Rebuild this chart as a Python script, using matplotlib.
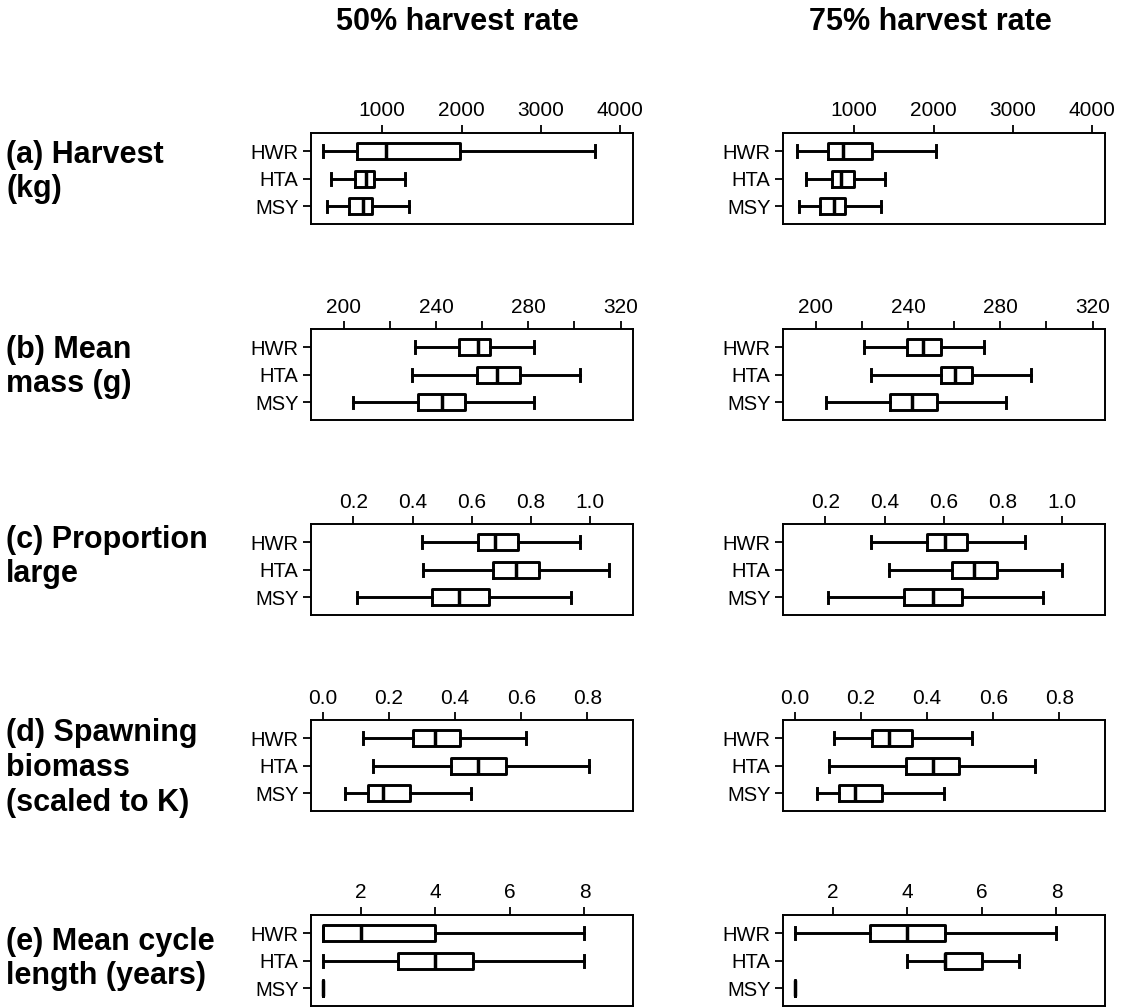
import matplotlib
matplotlib.use("Agg")
import matplotlib.pyplot as plt

plt.rcParams["font.family"] = ["Liberation Sans", "DejaVu Sans"]

# ---------- data ----------
groups = ["HWR", "HTA", "MSY"]
columns = ["50% harvest rate", "75% harvest rate"]
row_labels = [
    "(a) Harvest\n(kg)",
    "(b) Mean\nmass (g)",
    "(c) Proportion\nlarge",
    "(d) Spawning\nbiomass\n(scaled to K)",
    "(e) Mean cycle\nlength (years)",
]

# per group: [low whisker, Q1, median, Q3, high whisker]
harvest_50 = [[249, 684, 1050, 1981, 3688], [355, 650, 798, 894, 1282], [305, 578, 755, 874, 1336]]
harvest_75 = [[278, 669, 854, 1223, 2033], [395, 719, 832, 992, 1383], [307, 572, 741, 887, 1340]]
mass_50 = [[230.9, 250.0, 258.1, 263.2, 282.3], [229.7, 257.7, 266.4, 276.2, 302.6], [203.8, 232.0, 242.6, 252.3, 282.3]]
mass_75 = [[220.8, 239.7, 246.5, 254.1, 272.9], [223.8, 254.1, 260.2, 267.9, 293.2], [204.2, 232.1, 241.8, 252.3, 282.4]]
large_50 = [[0.431, 0.622, 0.679, 0.755, 0.964], [0.434, 0.671, 0.750, 0.828, 1.062], [0.211, 0.465, 0.558, 0.658, 0.934]]
large_75 = [[0.354, 0.543, 0.604, 0.677, 0.874], [0.416, 0.629, 0.702, 0.778, 0.998], [0.210, 0.466, 0.562, 0.660, 0.936]]
spawn_50 = [[0.121, 0.272, 0.338, 0.414, 0.615], [0.151, 0.386, 0.469, 0.555, 0.805], [0.068, 0.136, 0.182, 0.264, 0.449]]
spawn_75 = [[0.117, 0.233, 0.284, 0.354, 0.537], [0.103, 0.336, 0.418, 0.496, 0.727], [0.066, 0.134, 0.182, 0.263, 0.451]]
cycle_50 = [[1, 1, 2, 4, 8], [1, 3, 4, 5, 8], [1, 1, 1, 1, 1]]
cycle_75 = [[1, 3, 4, 5, 8], [4, 5, 5, 6, 7], [1, 1, 1, 1, 1]]

panel_data = [
    (harvest_50, harvest_75),
    (mass_50, mass_75),
    (large_50, large_75),
    (spawn_50, spawn_75),
    (cycle_50, cycle_75),
]

x_limits = [(100, 4165), (185.7, 325.4), (0.057, 1.144), (-0.036, 0.938), (0.67, 9.3)]
x_ticks = [
    [1000, 2000, 3000, 4000],
    [200, 220, 240, 260, 280, 300, 320],
    [0.2, 0.4, 0.6, 0.8, 1.0],
    [0.0, 0.2, 0.4, 0.6, 0.8],
    [2, 4, 6, 8],
]
x_tick_labels = [
    ["1000", "2000", "3000", "4000"],
    ["200", "", "240", "", "280", "", "320"],
    ["0.2", "0.4", "0.6", "0.8", "1.0"],
    ["0.0", "0.2", "0.4", "0.6", "0.8"],
    ["2", "4", "6", "8"],
]


def to_stats(rows):
    stats = []
    for name, (lo, q1, med, q3, hi) in zip(groups, rows):
        stats.append(dict(label=name, whislo=lo, q1=q1, med=med, q3=q3, whishi=hi, fliers=[]))
    return stats


# ---------- figure layout (pixel boxes from the reference) ----------
W, H = 1128, 1008
fig = plt.figure(figsize=(W / 100, H / 100), dpi=100)

col_left = [311, 783]
col_width = 322
row_top = [133, 329, 524, 720, 915]
row_height = 91
label_center = [172, 367, 557, 768, 959]

line_kw = dict(color="black", linewidth=2.1)

for r in range(5):
    for c in range(2):
        left = col_left[c] / W
        bottom = 1 - (row_top[r] + row_height) / H
        ax = fig.add_axes([left, bottom, col_width / W, row_height / H])

        stats = to_stats(panel_data[r][c])
        ax.bxp(
            stats,
            positions=[3, 2, 1],
            widths=0.57,
            capwidths=0.42,
            orientation="horizontal",
            showfliers=False,
            boxprops=line_kw,
            whiskerprops=line_kw,
            capprops=line_kw,
            medianprops=dict(color="black", linewidth=2.5),
        )

        ax.set_xlim(*x_limits[r])
        ax.set_ylim(0.36, 3.66)
        ax.set_xticks(x_ticks[r], x_tick_labels[r])
        ax.set_yticks([3, 2, 1], groups)

        ax.xaxis.tick_top()
        ax.tick_params(axis="x", direction="out", length=6, width=1.3, pad=3, labelsize=15)
        ax.tick_params(axis="y", direction="out", length=6, width=1.3, pad=3, labelsize=14.5)
        for s in ax.spines.values():
            s.set_linewidth(1.4)

# ---------- text ----------
for r in range(5):
    y = 1 - label_center[r] / H
    fig.text(6 / W, y, row_labels[r], fontsize=22, fontweight="bold",
             ha="left", va="center", linespacing=1.2)

fig.text(457 / W, 1 - 22 / H, columns[0], fontsize=22, fontweight="bold", ha="center", va="center")
fig.text(930 / W, 1 - 22 / H, columns[1], fontsize=22, fontweight="bold", ha="center", va="center")

fig.savefig("out.png", dpi=100)
